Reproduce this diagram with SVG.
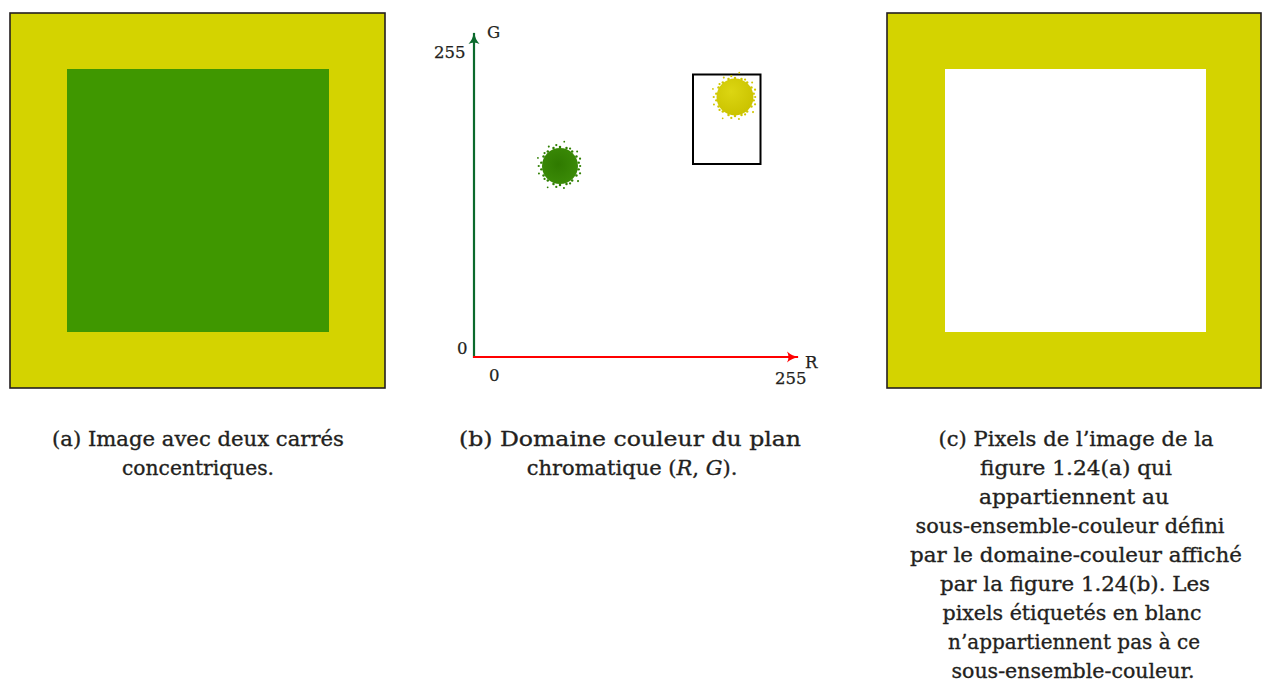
<svg xmlns="http://www.w3.org/2000/svg" xmlns:xlink="http://www.w3.org/1999/xlink" width="1268" height="682" viewBox="0 0 1268 682">
<style>
.cap{font-family:"DejaVu Serif","Liberation Serif",serif;font-size:21px;fill:#231f20;stroke:#231f20;stroke-width:0.35;text-anchor:middle}
.lbl{font-family:"DejaVu Serif","Liberation Serif",serif;font-size:16.5px;fill:#231f20;stroke:#231f20;stroke-width:0.25}
.frame{stroke:#231f20;stroke-width:1.6}
.yel{fill:#d4d300}
</style>
<defs>
<marker id="arrG" markerUnits="userSpaceOnUse" markerWidth="14" markerHeight="12" refX="11" refY="6" orient="auto">
<path d="M0,0.5 Q5,5 12,6 Q5,7 0,11.5 Q3,6 0,0.5z" fill="#0b6a2c"/>
</marker>
<marker id="arrR" markerUnits="userSpaceOnUse" markerWidth="14" markerHeight="12" refX="11" refY="6" orient="auto">
<path d="M0,0.5 Q5,5 12,6 Q5,7 0,11.5 Q3,6 0,0.5z" fill="#ff0000"/>
</marker>
<radialGradient id="gGreen" cx="0.45" cy="0.45" r="0.6">
<stop offset="0" stop-color="#2f7a00"/>
<stop offset="1" stop-color="#3c8c08"/>
</radialGradient>
<radialGradient id="gYellow" cx="0.4" cy="0.35" r="0.65">
<stop offset="0" stop-color="#dcd612"/>
<stop offset="1" stop-color="#cbc300"/>
</radialGradient>
<g id="specks">
<circle cx="18" cy="0" r="1"/><circle cx="17.9" cy="6.5" r="1"/><circle cx="16.1" cy="13.5" r="0.9"/><circle cx="9" cy="15.6" r="1"/><circle cx="3.5" cy="19.7" r="0.9"/><circle cx="-3.3" cy="18.7" r="1"/><circle cx="-11" cy="19" r="0.8"/><circle cx="-13.8" cy="11.6" r="1"/><circle cx="-18.8" cy="6.8" r="0.9"/><circle cx="-19" cy="0" r="1"/><circle cx="-19.7" cy="-7.2" r="0.8"/><circle cx="-13.8" cy="-11.6" r="1"/><circle cx="-10" cy="-17.3" r="0.9"/><circle cx="-3.3" cy="-18.7" r="1"/><circle cx="3.8" cy="-21.7" r="0.8"/><circle cx="9" cy="-15.6" r="1"/><circle cx="15.3" cy="-12.9" r="0.9"/><circle cx="17.9" cy="-6.5" r="1"/>
<circle cx="16.7" cy="3" r="1.1"/><circle cx="14.7" cy="8.5" r="1.1"/><circle cx="10.9" cy="13" r="1.1"/><circle cx="5.8" cy="16" r="1.1"/><circle cx="0" cy="17" r="1.1"/><circle cx="-5.8" cy="16" r="1.1"/><circle cx="-10.9" cy="13" r="1.1"/><circle cx="-14.7" cy="8.5" r="1.1"/><circle cx="-16.7" cy="3" r="1.1"/><circle cx="-16.7" cy="-3" r="1.1"/><circle cx="-14.7" cy="-8.5" r="1.1"/><circle cx="-10.9" cy="-13" r="1.1"/><circle cx="-5.8" cy="-16" r="1.1"/><circle cx="0" cy="-17" r="1.1"/><circle cx="5.8" cy="-16" r="1.1"/><circle cx="10.9" cy="-13" r="1.1"/><circle cx="14.7" cy="-8.5" r="1.1"/><circle cx="16.7" cy="-3" r="1.1"/>
</g>
</defs>
<rect width="1268" height="682" fill="#ffffff"/>

<g id="panel-a">
<rect class="yel frame" x="10" y="13" width="375" height="375"/>
<rect x="67" y="69" width="262" height="263" fill="#3f9700"/>
</g>

<g id="panel-b">
<rect x="693" y="74.5" width="67.5" height="89.5" fill="none" stroke="#000" stroke-width="2"/>
<circle cx="560" cy="166" r="18" fill="url(#gGreen)"/>
<use xlink:href="#specks" href="#specks" transform="translate(560 166) scale(1.12)" fill="#2f7f00"/>
<circle cx="735" cy="97" r="18.5" fill="url(#gYellow)"/>
<use xlink:href="#specks" href="#specks" transform="translate(735 97) scale(1.12)" fill="#cfc600"/>
<text class="lbl" x="487" y="38">G</text>
<text class="lbl" x="434" y="58">255</text>
<text class="lbl" x="457" y="354">0</text>
<text class="lbl" x="489" y="381">0</text>
<text class="lbl" x="805" y="368">R</text>
<text class="lbl" x="775" y="384">255</text>
</g>

<g id="connectors">
<line x1="474" y1="358" x2="474" y2="33" stroke="#0b6a2c" stroke-width="2.2" marker-end="url(#arrG)"/>
<line x1="473" y1="357" x2="798" y2="357" stroke="#ff0000" stroke-width="2.2" marker-end="url(#arrR)"/>
</g>

<g id="panel-c">
<rect class="yel frame" x="887" y="13" width="374" height="375"/>
<rect x="945" y="69" width="261" height="263" fill="#ffffff"/>
</g>

<g id="captions">
<text class="cap" x="198" y="446" textLength="292" lengthAdjust="spacingAndGlyphs">(a) Image avec deux carrés</text>
<text class="cap" x="198" y="475" textLength="152" lengthAdjust="spacingAndGlyphs">concentriques.</text>
<text class="cap" x="630" y="446" textLength="342" lengthAdjust="spacingAndGlyphs">(b) Domaine couleur du plan</text>
<text class="cap" x="632" y="475">chromatique (<tspan font-style="italic">R</tspan>, <tspan font-style="italic">G</tspan>).</text>
<text class="cap" x="1076" y="446" textLength="275" lengthAdjust="spacingAndGlyphs">(c) Pixels de l’image de la</text>
<text class="cap" x="1076" y="475" textLength="192" lengthAdjust="spacingAndGlyphs">figure 1.24(a) qui</text>
<text class="cap" x="1074" y="504" textLength="190" lengthAdjust="spacingAndGlyphs">appartiennent au</text>
<text class="cap" x="1070" y="533" textLength="309" lengthAdjust="spacingAndGlyphs">sous-ensemble-couleur défini</text>
<text class="cap" x="1076" y="562" textLength="332" lengthAdjust="spacingAndGlyphs">par le domaine-couleur affiché</text>
<text class="cap" x="1075" y="591" textLength="270" lengthAdjust="spacingAndGlyphs">par la figure 1.24(b). Les</text>
<text class="cap" x="1072" y="620" textLength="259" lengthAdjust="spacingAndGlyphs">pixels étiquetés en blanc</text>
<text class="cap" x="1074" y="649" textLength="252" lengthAdjust="spacingAndGlyphs">n’appartiennent pas à ce</text>
<text class="cap" x="1073" y="678" textLength="243" lengthAdjust="spacingAndGlyphs">sous-ensemble-couleur.</text>
</g>
</svg>
